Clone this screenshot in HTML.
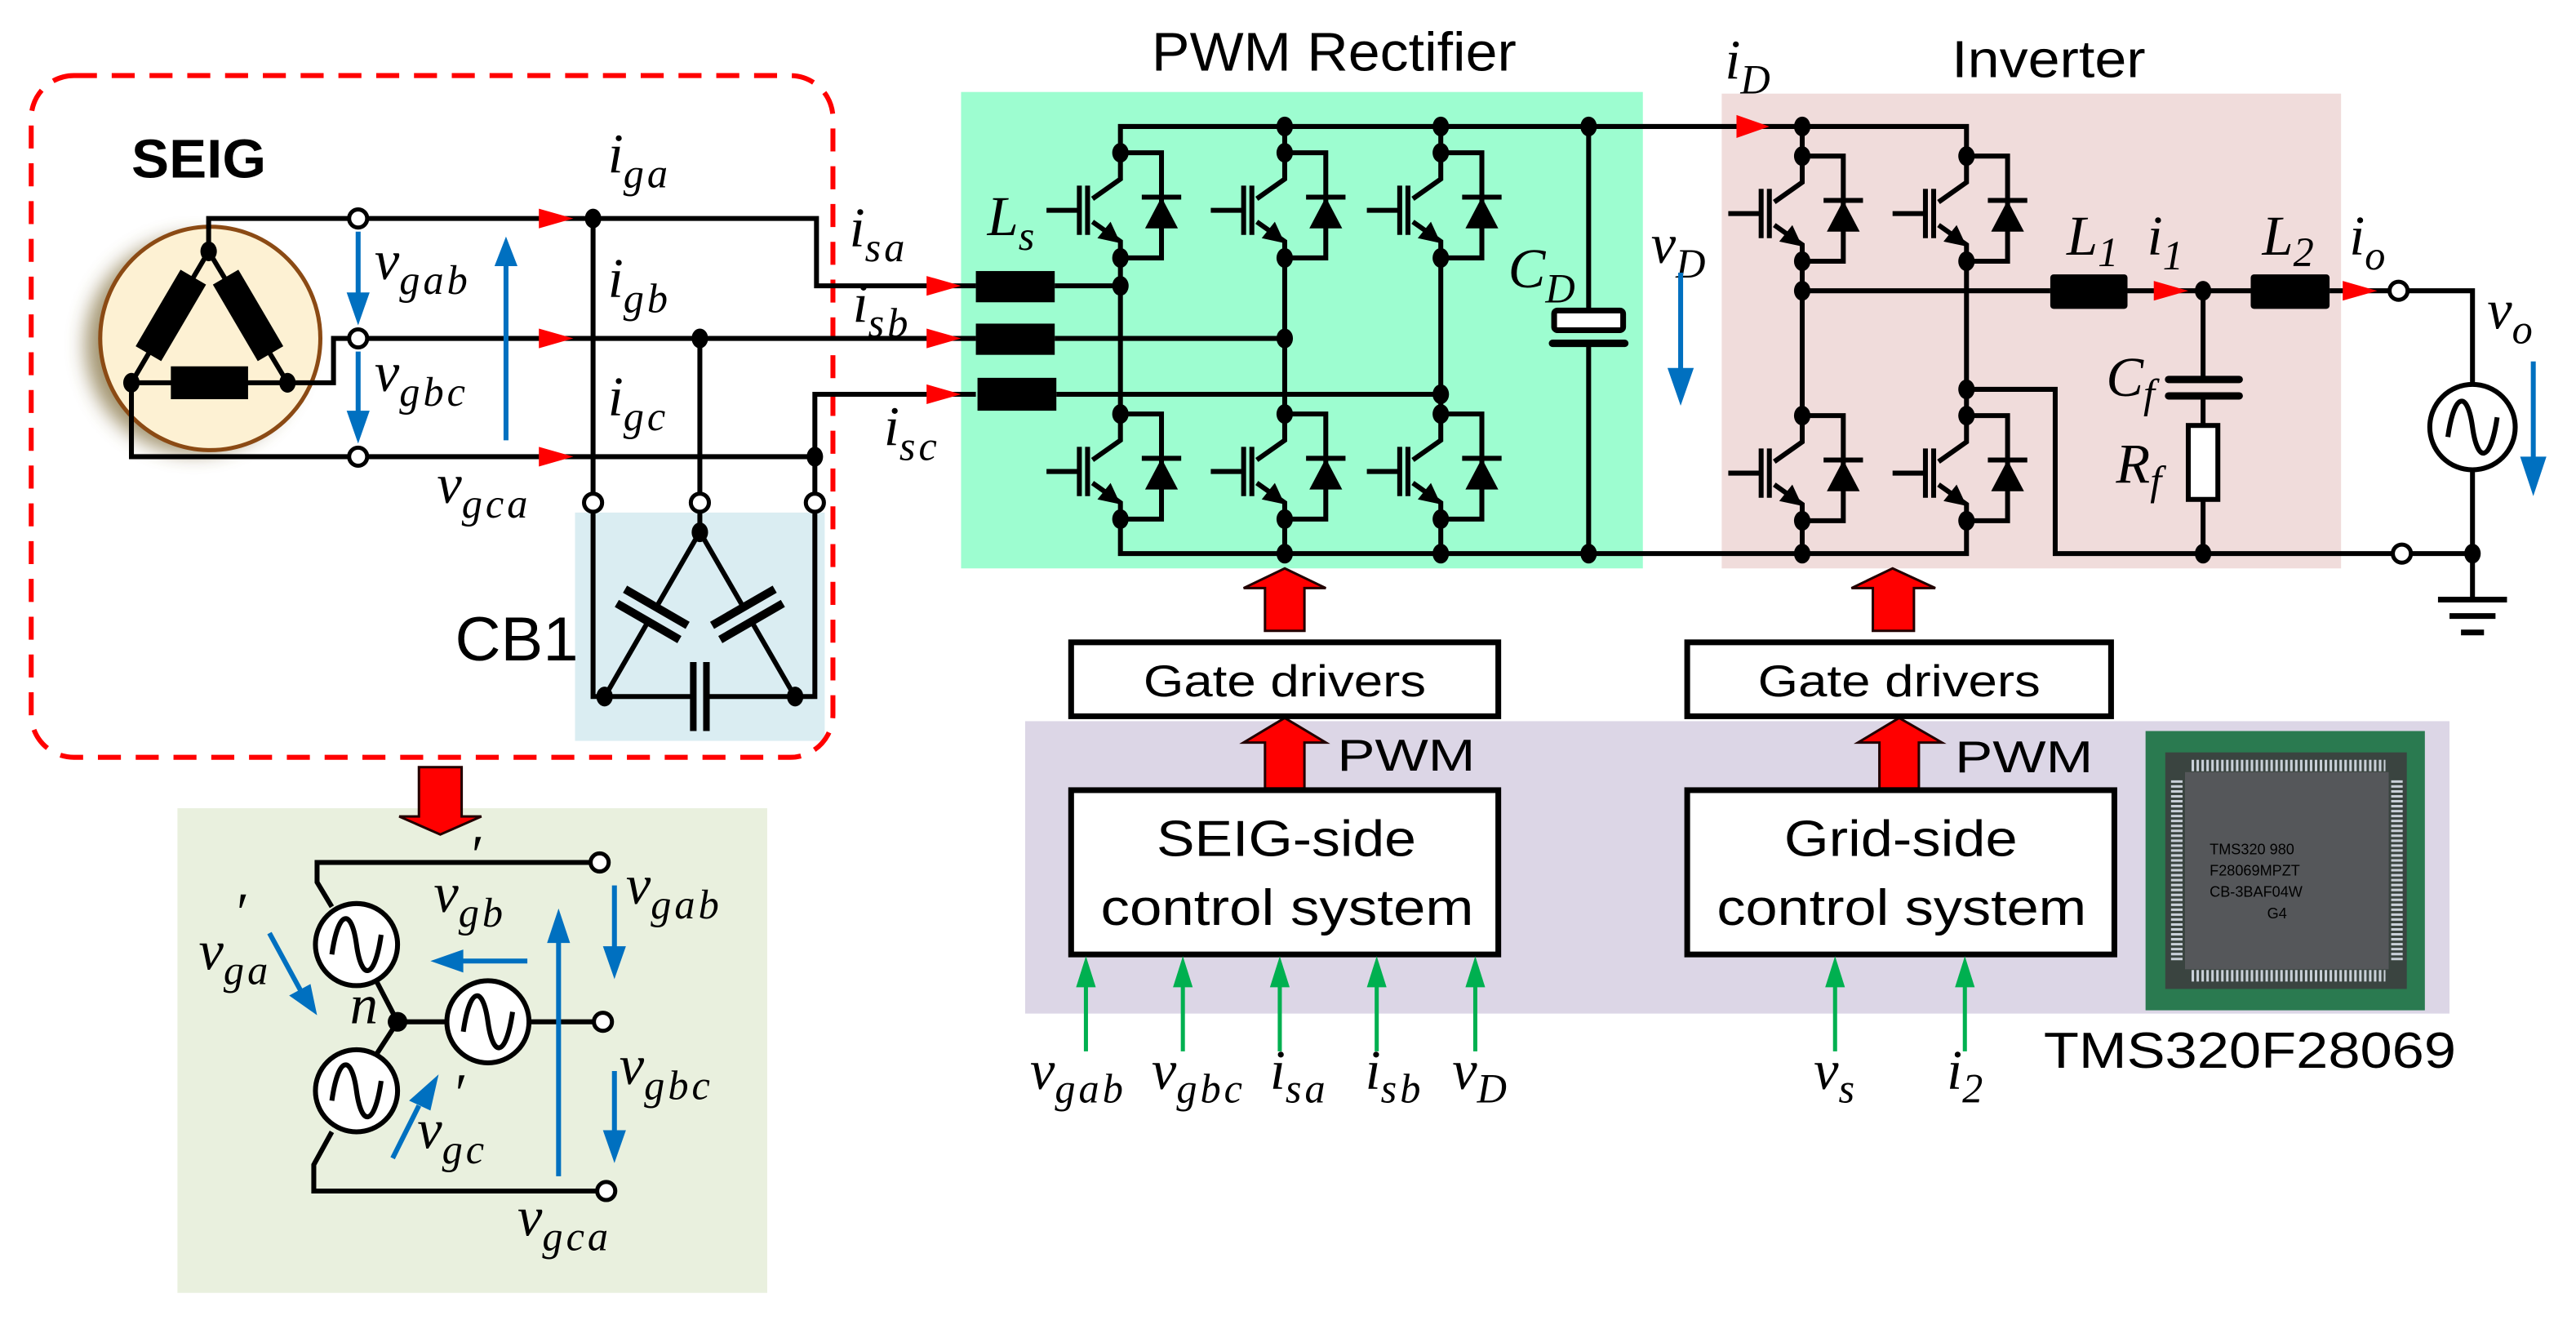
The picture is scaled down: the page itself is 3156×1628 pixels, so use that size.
<!DOCTYPE html>
<html><head><meta charset="utf-8"><style>
html,body{margin:0;padding:0;background:#fff}
svg{display:block}
.w{stroke:#000;stroke-width:3;fill:none}
.m{font-family:"Liberation Serif",serif;font-style:italic;font-size:34px;fill:#000}
.s{font-size:25px;letter-spacing:2px}
.t{font-family:"Liberation Sans",sans-serif;fill:#000}
</style></head><body>
<svg width="3156" height="1628" viewBox="0 0 1568 809" preserveAspectRatio="none" xmlns="http://www.w3.org/2000/svg">
<defs>
<g id="sw">
 <path class="w" d="M0 0V16L-17 28M-17 42L0 54V64M0 0H25V64H0M-45 35H-25M25 27V46"/>
 <path d="M-25 20V50M-20 20V50" stroke="#000" stroke-width="3"/>
 <polygon points="0,55 -14,52 -6,42"/>
 <polygon points="15,46 35,46 25,27"/>
 <path d="M13 27H37" stroke="#000" stroke-width="3"/>
 <ellipse cx="0" cy="0" rx="5" ry="6"/><ellipse cx="0" cy="64" rx="5" ry="6"/>
</g>
<ellipse id="d" cx="0" cy="0" rx="5" ry="6"/>
<filter id="bl"><feGaussianBlur stdDeviation="6"/></filter>
<path id="sine" d="M-15 6 C-11 -22,-3 -22,0 0 S11 22,15 -6" fill="none" stroke="#000" stroke-width="3"/>
</defs>

<rect x="585" y="56" width="415" height="290" fill="#9dfdd0"/>
<rect x="1048" y="57" width="377" height="289" fill="#f0dcdb"/>
<rect x="350" y="312" width="152" height="139" fill="#daedf2"/>
<rect x="108" y="492" width="359" height="295" fill="#e9f0de"/>
<rect x="624" y="439" width="867" height="178" fill="#dcd6e6"/>

<rect x="19" y="46" width="488" height="415" rx="26" fill="none" stroke="#f00" stroke-width="3" stroke-dasharray="14,9"/>

<text class="t" x="80" y="108" font-size="33" font-weight="bold" textLength="82" lengthAdjust="spacingAndGlyphs">SEIG</text>

<ellipse cx="118" cy="210" rx="66" ry="66" fill="#7a6630" filter="url(#bl)" opacity="0.7"/>
<ellipse cx="128" cy="206" rx="67" ry="68" fill="#fdf1d3" stroke="#8b4a14" stroke-width="2.5"/>
<path class="w" d="M127 153V133H213M80 233V278H213M175 233H203V206H213M127 153L80 233M127 153L175 233M80 233H175"/>
<rect x="-9" y="-27" width="18" height="54" transform="translate(104,192) rotate(30.4)"/>
<rect x="-9" y="-27" width="18" height="54" transform="translate(151,192) rotate(-30.4)"/>
<rect x="104" y="223" width="47" height="20"/>
<use href="#d" x="127" y="153"/><use href="#d" x="80" y="233"/><use href="#d" x="175" y="233"/>

<path class="w" d="M223 133H497V174H594M223 206H594M223 278H496V240H594M361 133V300M426 206V300M496 278V300"/>
<use href="#d" x="361" y="133"/><use href="#d" x="426" y="206"/><use href="#d" x="496" y="278"/>
<g fill="#fff" stroke="#000" stroke-width="2.5">
<circle cx="218" cy="133" r="5.5"/><circle cx="218" cy="206" r="5.5"/><circle cx="218" cy="278" r="5.5"/>
<circle cx="361" cy="306" r="5.5"/><circle cx="426" cy="306" r="5.5"/><circle cx="496" cy="306" r="5.5"/>
</g>
<g fill="#f00">
<polygon points="328,127 349,133 328,139"/><polygon points="328,200 349,206 328,212"/><polygon points="328,272 349,278 328,284"/>
<polygon points="564,168 585,174 564,180"/><polygon points="564,200 585,206 564,212"/><polygon points="564,234 585,240 564,246"/>
</g>
<g stroke="#0070c0" stroke-width="3" fill="#0070c0">
<line x1="218" y1="141" x2="218" y2="180"/><polygon points="211,178 225,178 218,198" stroke="none"/>
<line x1="218" y1="214" x2="218" y2="252"/><polygon points="211,250 225,250 218,270" stroke="none"/>
<line x1="308" y1="268" x2="308" y2="160"/><polygon points="301,162 315,162 308,144" stroke="none"/>
</g>

<path class="w" d="M361 312V424H421M431 424H496V312M426 312V324"/>
<path d="M422 403V445M430 403V445" stroke="#000" stroke-width="4"/>
<g transform="translate(397,374) rotate(30)"><path class="w" d="M0 -58V-5M0 5V58"/><path d="M-22 -5H22M-22 5H22" stroke="#000" stroke-width="5"/></g>
<g transform="translate(455,374) rotate(-30)"><path class="w" d="M0 -58V-5M0 5V58"/><path d="M-22 -5H22M-22 5H22" stroke="#000" stroke-width="5"/></g>
<use href="#d" x="426" y="324"/><use href="#d" x="368" y="424"/><use href="#d" x="484" y="424"/>
<text class="t" x="277" y="402" font-size="38" textLength="75" lengthAdjust="spacingAndGlyphs">CB1</text>

<text class="m" x="370" y="105">i<tspan class="s" dy="9">ga</tspan></text>
<text class="m" x="370" y="181">i<tspan class="s" dy="9">gb</tspan></text>
<text class="m" x="370" y="253">i<tspan class="s" dy="9">gc</tspan></text>
<text class="m" x="228" y="170">v<tspan class="s" dy="9">gab</tspan></text>
<text class="m" x="228" y="238">v<tspan class="s" dy="9">gbc</tspan></text>
<text class="m" x="266" y="306">v<tspan class="s" dy="9">gca</tspan></text>
<text class="m" x="517" y="150">i<tspan class="s" dy="9">sa</tspan></text>
<text class="m" x="519" y="196">i<tspan class="s" dy="9">sb</tspan></text>
<text class="m" x="538" y="271">i<tspan class="s" dy="9">sc</tspan></text>

<text class="t" x="701" y="43" font-size="33" textLength="222" lengthAdjust="spacingAndGlyphs">PWM Rectifier</text>
<rect x="594" y="165" width="48" height="19"/><rect x="594" y="197" width="48" height="19"/><rect x="595" y="230" width="48" height="20"/>
<path class="w" d="M642 174H682M642 206H782M643 240H877M682 93V77H1197V95M682 317V337H1197V319M682 157V252M782 157V252M877 157V252M782 77V93M877 77V93M782 317V337M877 317V337M967 77V189M967 209V337"/>
<use href="#sw" x="682" y="93"/><use href="#sw" x="782" y="93"/><use href="#sw" x="877" y="93"/>
<use href="#sw" x="682" y="252"/><use href="#sw" x="782" y="252"/><use href="#sw" x="877" y="252"/>
<use href="#d" x="682" y="174"/><use href="#d" x="782" y="206"/><use href="#d" x="877" y="240"/>
<use href="#d" x="782" y="77"/><use href="#d" x="877" y="77"/><use href="#d" x="967" y="77"/>
<use href="#d" x="782" y="337"/><use href="#d" x="877" y="337"/><use href="#d" x="967" y="337"/>
<rect x="946" y="189" width="42" height="12" fill="#fff" stroke="#000" stroke-width="3.5" rx="2"/>
<path d="M945 209H989" stroke="#000" stroke-width="4.5" stroke-linecap="round"/>
<text class="m" x="601" y="143">L<tspan class="s" dy="9">s</tspan></text>
<text class="m" x="918" y="175">C<tspan class="s" dy="9">D</tspan></text>
<text class="m" x="1005" y="160">v<tspan class="s" dy="9">D</tspan></text>
<g fill="#0070c0"><line x1="1023" y1="166" x2="1023" y2="228" stroke="#0070c0" stroke-width="3"/><polygon points="1015,224 1031,224 1023,247"/></g>

<text class="t" x="1188" y="47" font-size="32" textLength="118" lengthAdjust="spacingAndGlyphs">Inverter</text>
<text class="m" x="1050" y="48">i<tspan class="s" dy="9">D</tspan></text>
<polygon points="1057,70 1077,77 1057,84" fill="#f00"/>
<path class="w" d="M1097 77V95M1097 159V253M1197 159V253M1097 319V337M1097 177H1248M1295 177H1370M1418 177H1455M1466 177H1505V234M1505 286V365M1197 237H1251V337H1456M1468 337H1505M1341 177V231M1341 241V259M1341 304V337"/>
<use href="#sw" x="1097" y="95"/><use href="#sw" x="1197" y="95"/>
<use href="#sw" x="1097" y="253"/><use href="#sw" x="1197" y="253"/>
<use href="#d" x="1097" y="77"/><use href="#d" x="1097" y="177"/><use href="#d" x="1197" y="237"/><use href="#d" x="1097" y="337"/>
<use href="#d" x="1341" y="177"/><use href="#d" x="1341" y="337"/><use href="#d" x="1505" y="337"/>
<rect x="1248" y="167" width="47" height="21" rx="2"/><rect x="1370" y="167" width="48" height="21" rx="2"/>
<polygon points="1311,171 1332,177 1311,183" fill="#f00"/><polygon points="1426,171 1447,177 1426,183" fill="#f00"/>
<path d="M1320 231H1363M1320 241H1363" stroke="#000" stroke-width="4.5" stroke-linecap="round"/>
<rect x="1332" y="259" width="18" height="45" fill="#fff" stroke="#000" stroke-width="3"/>
<circle cx="1460" cy="177" r="5.5" fill="#fff" stroke="#000" stroke-width="2.5"/>
<circle cx="1462" cy="337" r="5.5" fill="#fff" stroke="#000" stroke-width="2.5"/>
<circle cx="1505" cy="260" r="26" fill="#fff" stroke="#000" stroke-width="3"/>
<use href="#sine" x="1505" y="260"/>
<path d="M1484 365H1526M1491 375H1519M1498 385H1512" stroke="#000" stroke-width="3.5"/>
<g fill="#0070c0"><line x1="1542" y1="220" x2="1542" y2="282" stroke="#0070c0" stroke-width="3"/><polygon points="1534,278 1550,278 1542,302"/></g>
<text class="m" x="1258" y="155">L<tspan class="s" dy="7">1</tspan></text>
<text class="m" x="1307" y="155">i<tspan class="s" dy="9">1</tspan></text>
<text class="m" x="1377" y="155">L<tspan class="s" dy="7">2</tspan></text>
<text class="m" x="1430" y="155">i<tspan class="s" dy="9">o</tspan></text>
<text class="m" x="1282" y="241">C<tspan class="s" dy="7">f</tspan></text>
<text class="m" x="1288" y="294">R<tspan class="s" dy="7">f</tspan></text>
<text class="m" x="1514" y="200">v<tspan class="s" dy="9">o</tspan></text>

<g fill="#f00" stroke="#200" stroke-width="1.5">
<polygon points="782,346 807,358 794,358 794,384 770,384 770,358 757,358"/>
<polygon points="1152,346 1178,358 1165,358 1165,384 1140,384 1140,358 1127,358"/>
<polygon points="782,437 807,452 794,452 794,480 770,480 770,452 757,452"/>
<polygon points="1156,437 1182,452 1168,452 1168,480 1144,480 1144,452 1131,452"/>
<polygon points="255,467 281,467 281,497 293,497 268,508 243,497 255,497"/>
</g>

<g fill="#fff" stroke="#000" stroke-width="3.5">
<rect x="652" y="391" width="260" height="45"/><rect x="1027" y="391" width="258" height="45"/>
<rect x="652" y="481" width="260" height="100"/><rect x="1027" y="481" width="260" height="100"/>
</g>
<g class="t" font-size="27">
<text x="696" y="424" textLength="172" lengthAdjust="spacingAndGlyphs">Gate drivers</text>
<text x="1070" y="424" textLength="172" lengthAdjust="spacingAndGlyphs">Gate drivers</text>
<text x="814" y="469" textLength="84" lengthAdjust="spacingAndGlyphs">PWM</text>
<text x="1190" y="470" textLength="84" lengthAdjust="spacingAndGlyphs">PWM</text>
</g>
<g class="t" font-size="31">
<text x="704" y="521" textLength="158" lengthAdjust="spacingAndGlyphs">SEIG-side</text>
<text x="670" y="563" textLength="227" lengthAdjust="spacingAndGlyphs">control system</text>
<text x="1086" y="521" textLength="142" lengthAdjust="spacingAndGlyphs">Grid-side</text>
<text x="1045" y="563" textLength="225" lengthAdjust="spacingAndGlyphs">control system</text>
</g>
<g stroke="#00b050" stroke-width="2.5"><path d="M661 640V598M720 640V598M779 640V598M838 640V598M898 640V598M1117 640V598M1196 640V598"/></g>
<g fill="#00b050">
<polygon points="655,601 667,601 661,582"/><polygon points="714,601 726,601 720,582"/><polygon points="773,601 785,601 779,582"/>
<polygon points="832,601 844,601 838,582"/><polygon points="892,601 904,601 898,582"/><polygon points="1111,601 1123,601 1117,582"/><polygon points="1190,601 1202,601 1196,582"/>
</g>
<text class="m" x="627" y="663">v<tspan class="s" dy="8" letter-spacing="0">gab</tspan></text>
<text class="m" x="701" y="663">v<tspan class="s" dy="8" letter-spacing="0">gbc</tspan></text>
<text class="m" x="773" y="663">i<tspan class="s" dy="8">sa</tspan></text>
<text class="m" x="831" y="663">i<tspan class="s" dy="8">sb</tspan></text>
<text class="m" x="884" y="663">v<tspan class="s" dy="8">D</tspan></text>
<text class="m" x="1104" y="663">v<tspan class="s" dy="8">s</tspan></text>
<text class="m" x="1185" y="663">i<tspan class="s" dy="8">2</tspan></text>

<rect x="1306" y="445" width="170" height="170" fill="#2a7a50"/>
<rect x="1318" y="458" width="147" height="144" fill="#3a4440"/>
<rect x="1330" y="470" width="124" height="120" fill="#55575a"/>
<path d="M1334 466H1452M1334 594H1452" stroke="#c9d0d8" stroke-width="7" stroke-dasharray="1.5,1.5"/>
<path d="M1325 475V586M1459 475V586" stroke="#c9d0d8" stroke-width="7" stroke-dasharray="1.5,1.5"/>
<g class="t" font-size="9" fill="#aaa"><text x="1345" y="520">TMS320  980</text><text x="1345" y="533">F28069MPZT</text><text x="1345" y="546">CB-3BAF04W</text><text x="1380" y="559">G4</text></g>
<text class="t" x="1244" y="650" font-size="31" textLength="251" lengthAdjust="spacingAndGlyphs">TMS320F28069</text>

<path class="w" d="M359 525H193V537L202 552M229 597L242 622L229 642M202 689L191 709V725H363M242 622H272M322 622H361"/>
<g fill="#fff" stroke="#000" stroke-width="3"><circle cx="217" cy="575" r="25"/><circle cx="217" cy="664" r="25"/><circle cx="297" cy="622" r="25"/></g>
<use href="#sine" x="217" y="575"/><use href="#sine" x="217" y="664"/><use href="#sine" x="297" y="622"/>
<circle cx="242" cy="622" r="6"/>
<g fill="#fff" stroke="#000" stroke-width="2.5"><circle cx="365" cy="525" r="5.5"/><circle cx="367" cy="622" r="5.5"/><circle cx="369" cy="725" r="5.5"/></g>
<g stroke="#0070c0" stroke-width="3" fill="#0070c0">
<line x1="374" y1="539" x2="374" y2="578"/><polygon points="367,576 381,576 374,596" stroke="none"/>
<line x1="374" y1="652" x2="374" y2="690"/><polygon points="367,688 381,688 374,708" stroke="none"/>
<line x1="340" y1="716" x2="340" y2="572"/><polygon points="333,574 347,574 340,553" stroke="none"/>
<line x1="321" y1="585" x2="280" y2="585"/><polygon points="282,578 282,592 262,585" stroke="none"/>
<line x1="164" y1="568" x2="183" y2="603"/><polygon points="176,606 189,599 193,618" stroke="none"/>
<line x1="239" y1="705" x2="255" y2="673"/><polygon points="249,670 262,676 267,654" stroke="none"/>
</g>
<text class="m" x="381" y="550">v<tspan class="s" dy="9">gab</tspan></text>
<text class="m" x="264" y="555">v<tspan class="s" dy="9">gb</tspan></text><text class="m" x="285" y="532" font-size="24">′</text>
<text class="m" x="121" y="590">v<tspan class="s" dy="9">ga</tspan></text><text class="m" x="142" y="567" font-size="24">′</text>
<text class="m" x="213" y="623">n</text>
<text class="m" x="377" y="660">v<tspan class="s" dy="9">gbc</tspan></text>
<text class="m" x="254" y="699">v<tspan class="s" dy="9">gc</tspan></text><text class="m" x="275" y="677" font-size="24">′</text>
<text class="m" x="315" y="752">v<tspan class="s" dy="9">gca</tspan></text>
</svg>
</body></html>
